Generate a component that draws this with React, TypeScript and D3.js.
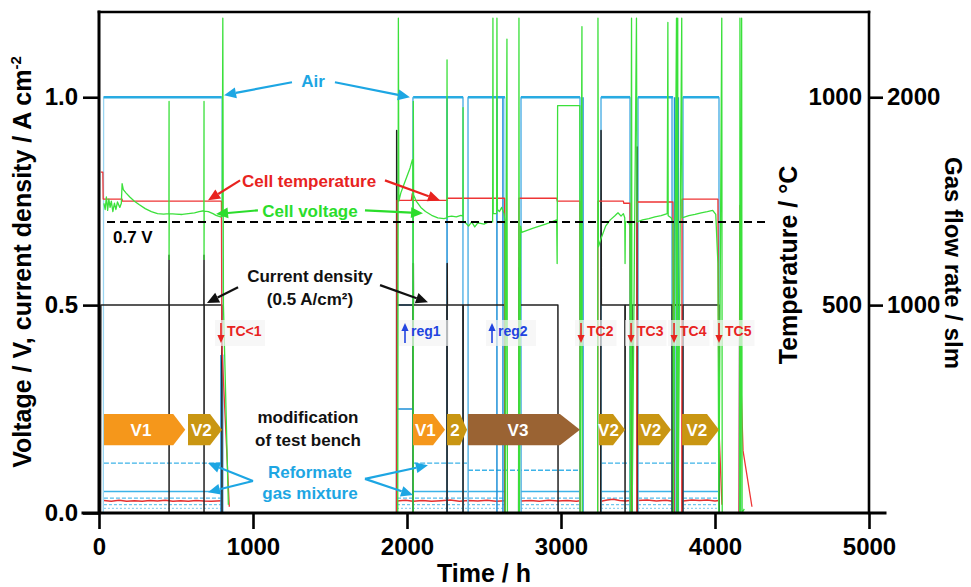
import * as d3 from "d3";
import React, { useEffect, useRef } from "react";

type Pt = [number, number];
const GAP: Pt = [NaN, NaN];

// axis ticks
const timeTicks = [0, 1000, 2000, 3000, 4000, 5000];
const voltTicks = [0, 0.5, 1.0];
const tempTicks = [500, 1000];
const flowTicks = [1000, 2000];

// cell voltage / V
const cellVoltage: Pt[] = [
  [32, 0.745], [40, 0.73], [48, 0.76], [56, 0.728], [64, 0.755], [72, 0.735], [80, 0.75], [90, 0.725],
  [100, 0.745], [110, 0.73], [120, 0.748], [135, 0.735], [145, 0.745], [150, 0.792], [158, 0.778],
  [175, 0.77], [200, 0.76], [230, 0.75], [260, 0.742], [300, 0.732], [340, 0.725], [380, 0.72],
  [420, 0.719], [454, 0.72], [455, 0.99], [455, 0.61], [456, 0.72], [500, 0.719], [540, 0.718],
  [580, 0.72], [620, 0.722], [650, 0.725], [681, 0.727], [682, 0.99], [682, 0.61], [683, 0.726],
  [710, 0.725], [740, 0.72], [760, 0.716], [790, 0.712], [800, 0.714], [804, 1.19], [808, 0.5], [840, 0.02],
  GAP,
  [1940, 0], [1944, 1.19], [1947, 0.75], [1960, 0.77], [1980, 0.79], [2000, 0.81], [2020, 0.83],
  [2035, 0.85], [2038, 0.84], [2040, 0], [2041, 0.99], [2043, 0.765], [2060, 0.75], [2090, 0.735],
  [2120, 0.725], [2160, 0.716], [2200, 0.71], [2240, 0.708], [2259, 0.71], [2260, 1.09], [2261, 0.712],
  [2290, 0.714], [2320, 0.712], [2350, 0.716], [2363, 0.714], [2364, 0.975], [2365, 0.7], [2380, 0.698],
  [2400, 0.69], [2420, 0.7], [2440, 0.688], [2460, 0.698], [2500, 0.695], [2530, 0.7], [2556, 0.7],
  [2558, 1.19], [2560, 0.72], [2582, 0.72], [2584, 1.19], [2587, 0.73], [2600, 0.725], [2615, 0.735],
  [2630, 0.72], [2636, 0.7], [2638, 0], [2649, 1.14], [2652, 0],
  GAP,
  [2725, 0], [2727, 1.19], [2730, 0], [2738, 0.69], [2745, 0.675], [2780, 0.68], [2820, 0.685],
  [2860, 0.69], [2900, 0.695], [2940, 0.7], [2972, 0.705], [2975, 0.6], [2978, 0.98], [3122, 0.98],
  [3124, 0], [3136, 1.17], [3138, 0],
  GAP,
  [3238, 0], [3240, 1.19], [3243, 0.64], [3260, 0.66], [3290, 0.69], [3320, 0.705], [3350, 0.715],
  [3370, 0.722], [3390, 0.714], [3405, 0.72], [3414, 0.71], [3416, 0.6], [3418, 0.7], [3440, 0.7],
  [3448, 0.69], [3450, 0], [3458, 1.19], [3462, 0], [3490, 1.19], [3494, 0.7], [3530, 0.705],
  [3570, 0.708], [3610, 0.712], [3650, 0.715], [3690, 0.72], [3694, 1.18], [3696, 0.715], [3715, 0.71],
  [3727, 0.7], [3729, 0], [3750, 1.19], [3752, 0], [3758, 1.19], [3760, 0], [3784, 1.19], [3786, 0.71],
  [3830, 0.715], [3870, 0.718], [3910, 0.722], [3950, 0.725], [3985, 0.728], [4005, 0.718],
  [4019, 0.6], [4025, 0], [4044, 1.19], [4047, 0],
  GAP,
  [4160, 0], [4162, 1.19], [4165, 0], [4173, 1.19], [4176, 0], [4190, 0.01],
];

// cell temperature / °C
const cellTemperature: Pt[] = [
  [12, 820], [25, 820], [27, 755], [150, 755], [151, 750], [795, 750], [798, 400], [846, 15],
  GAP,
  [1933, 0], [1935, 752], [2028, 752], [2034, 768], [2038, 752], [2260, 752], [2262, 757], [2634, 757], [2636, 0],
  GAP,
  [2725, 0], [2727, 757], [2972, 757], [2976, 750], [3123, 750], [3125, 0],
  GAP,
  [3238, 0], [3240, 750], [3405, 750], [3408, 745], [3448, 745], [3455, 0],
  GAP,
  [3492, 0], [3494, 748], [3727, 748], [3735, 0],
  GAP,
  [3784, 0], [3786, 755], [4019, 755], [4026, 200], [4045, 20],
  GAP,
  [4156, 0], [4162, 740], [4170, 300], [4182, 150], [4240, 15],
];

// current density / A cm-2
const currentDensity: Pt[] = [
  [10, 0], [12, 0.5], [454, 0.5], [455, 0.62], [455, 0], [456, 0.5], [681, 0.5], [682, 0.62], [682, 0],
  [683, 0.5], [797, 0.5], [799, 0],
  GAP,
  [1932, 0], [1933, 0.92], [1936, 0.5], [2039, 0.5], [2040, 0], [2041, 0.6], [2042, 0.5], [2259, 0.5],
  [2260, 0], [2261, 0.6], [2262, 0.5], [2363, 0.5], [2364, 0], [2365, 0.5], [2634, 0.5], [2636, 0],
  GAP,
  [2725, 0], [2727, 0.59], [2729, 0.5], [2980, 0.5], [2981, 0],
  GAP,
  [3258, 0], [3260, 0.92], [3262, 0.5], [3415, 0.5], [3416, 0], [3417, 0.5], [3460, 0.5], [3461, 0],
  [3462, 0.5], [3493, 0.5], [3494, 0.88], [3495, 0], [3496, 0.5], [3721, 0.5], [3722, 0], [3723, 0.5],
  [3790, 0.5], [3791, 0], [3792, 0.5], [4026, 0.5], [4027, 0],
  GAP,
  [4160, 0], [4161, 0.08], [4163, 0],
];

// air flow / slm
const airFlow: Pt[] = [
  [28, 0], [30, 2000], [797, 2000], [800, 0],
  GAP,
  [2039, 0], [2040, 2000], [2364, 2000], [2366, 0], [2394, 0], [2396, 2000], [2636, 2000], [2638, 0],
  GAP,
  [2738, 0], [2740, 2000], [3123, 2000], [3125, 0],
  GAP,
  [3258, 0], [3260, 2000], [3448, 2000], [3450, 0], [3498, 0], [3500, 2000], [3727, 2000], [3729, 0],
  [3790, 0], [3792, 2000], [4026, 2000], [4028, 0],
];

// reformate gas mixture components / slm
const reformateA: Pt[] = [
  [32, 240], [797, 240], GAP, [2040, 240], [2396, 240], GAP, [2396, 206], [3123, 206], GAP,
  [3260, 240], [3448, 240], GAP, [3500, 240], [3727, 240], GAP, [3792, 240], [4026, 240],
];
const reformateB: Pt[] = [
  [32, 104], [797, 104], GAP, [2040, 104], [2636, 104], GAP, [2740, 104], [3123, 104], GAP,
  [3260, 104], [3448, 104], GAP, [3500, 104], [3727, 104], GAP, [3792, 104], [4026, 104],
];
const reformateC: Pt[] = [
  [32, 72], [797, 72], GAP, [1935, 72], [2636, 72], GAP, [2740, 72], [3123, 72], GAP,
  [3260, 72], [3448, 72], GAP, [3500, 72], [3727, 72], GAP, [3792, 72], [4026, 72],
];
const reformateD: Pt[] = [
  [32, 40], [797, 40], GAP, [1935, 40], [2636, 40], GAP, [2740, 40], [3123, 40], GAP,
  [3260, 40], [3448, 40], GAP, [3500, 40], [3727, 40], GAP, [3792, 40], [4026, 40],
];
const reformateE: Pt[] = [
  [32, 22], [797, 22], GAP, [1935, 22], [2636, 22], GAP, [2740, 22], [3123, 22], GAP,
  [3260, 22], [3448, 22], GAP, [3500, 22], [3727, 22], GAP, [3792, 22], [4026, 22],
];

// red trace near bottom / slm
const redTrace: Pt[] = [
  [32, 60], [80, 57], [130, 61], [180, 56], [230, 59], [280, 57], [330, 60], [380, 58], [430, 61],
  [480, 57], [530, 59], [580, 56], [630, 60], [680, 58], [730, 57], [797, 59],
  GAP,
  [1935, 58], [1990, 61], [2040, 57], [2100, 60], [2160, 56], [2220, 59], [2280, 62], [2340, 57],
  [2400, 60], [2460, 58], [2520, 61], [2580, 57], [2636, 59],
  GAP,
  [2740, 58], [2800, 60], [2860, 57], [2920, 61], [2980, 58], [3040, 60], [3100, 57], [3123, 59],
  GAP,
  [3260, 57], [3300, 62], [3340, 66], [3380, 60], [3420, 58], [3448, 60],
  GAP,
  [3500, 60], [3560, 62], [3620, 58], [3680, 61], [3727, 57],
  GAP,
  [3792, 58], [3850, 63], [3900, 60], [3950, 62], [4000, 58], [4026, 60],
];

// purge gas / slm
const purgeFlow: Pt[] = [
  [1933, 0], [1935, 1000], [2040, 1000], [2040, 0], GAP,
  [1935, 500], [2040, 500], GAP,
  [797, 0], [797, 760], [803, 760], [803, 0], GAP,
  [4158, 0], [4160, 840], [4166, 840], [4166, 0],
];

// gas switching events: time / h, flow / slm
const gasSwitches: Pt[] = [
  [792, 760], [2039, 2000], [2260, 2000], [2364, 2000], [2396, 2000], [2584, 2000],
  [2623, 2000], [2740, 2000], [3123, 2000], [3143, 2000], [3260, 2000], [3448, 2000], [3500, 2000],
  [3722, 2000], [3738, 2000], [3750, 2000], [3762, 2000], [3792, 2000], [4026, 2000], [4162, 840],
];

const refVoltage = { v: 0.7, t0: 52, t1: 4325, label: "0.7 V", labelT: 91, labelV: 0.649 };

// test phases
const phaseLow = 0.163;
const phaseHigh = 0.238;
const phaseColors: Record<string, string> = { V1: "#F5971B", V2: "#C99612", V3: "#9A6333" };
const phases = [
  { label: "V1", kind: "V1", t0: 32, t1: 560 },
  { label: "V2", kind: "V2", t0: 578, t1: 799 },
  { label: "V1", kind: "V1", t0: 2039, t1: 2247 },
  { label: "2", kind: "V2", t0: 2260, t1: 2390 },
  { label: "V3", kind: "V3", t0: 2396, t1: 3123 },
  { label: "V2", kind: "V2", t0: 3247, t1: 3416 },
  { label: "V2", kind: "V2", t0: 3500, t1: 3714 },
  { label: "V2", kind: "V2", t0: 3786, t1: 4026 },
];

// events (thermal cycles, regenerations)
const events = [
  { t: 792, label: "TC<1", dir: "down" },
  { t: 1987, label: "reg1", dir: "up" },
  { t: 2552, label: "reg2", dir: "up" },
  { t: 3130, label: "TC2", dir: "down" },
  { t: 3455, label: "TC3", dir: "down" },
  { t: 3734, label: "TC4", dir: "down" },
  { t: 4026, label: "TC5", dir: "down" },
];

const callouts = [
  { lines: ["Air"], color: "#1DA6E3", t: 1390, v: [1.024], arrows: [[1253, 1.036, 812, 1.005], [1532, 1.036, 2019, 1.0]] },
  { lines: ["Cell temperature"], color: "#E8231F", t: 1364, v: [0.784], arrows: [[916, 0.8, 708, 0.752], [1857, 0.8, 2214, 0.752]] },
  { lines: ["Cell voltage"], color: "#2BDD2B", t: 1370, v: [0.712], arrows: [[1032, 0.728, 760, 0.719], [1727, 0.728, 2104, 0.721]] },
  { lines: ["Current density", "(0.5 A/cm²)"], color: "#111111", t: 1370, v: [0.555, 0.5], arrows: [[903, 0.543, 701, 0.505], [1825, 0.548, 2136, 0.507]] },
  { lines: ["modification", "of test bench"], color: "#111111", t: 1357, v: [0.216, 0.161], arrows: [] },
  { lines: ["Reformate", "gas mixture"], color: "#1DA6E3", t: 1370, v: [0.084, 0.034], arrows: [[1000, 0.077, 708, 0.12], [1000, 0.077, 708, 0.05], [1727, 0.082, 2136, 0.115], [1727, 0.082, 2039, 0.043]] },
];

const App = () => {
  const node = useRef<SVGSVGElement>(null);
  useEffect(() => {
    const svg = d3.select(node.current);
    svg.selectAll("*").remove();
    const font = "'Liberation Sans', Arial, Helvetica, sans-serif";
    const m = { left: 99, right: 869, top: 12, bottom: 513 };

    const x = d3.scaleLinear().domain([0, 5000]).range([m.left, m.right]);
    const yV = d3.scaleLinear().domain([0, 1.205]).range([m.bottom, m.top]);
    const yT = d3.scaleLinear().domain([0, 1205]).range([m.bottom, m.top]);
    const yF = d3.scaleLinear().domain([0, 2410]).range([m.bottom, m.top]);

    svg.append("defs").append("clipPath").attr("id", "plotclip")
      .append("rect").attr("x", m.left).attr("y", m.top)
      .attr("width", m.right - m.left).attr("height", m.bottom - m.top);
    const plot = svg.append("g").attr("clip-path", "url(#plotclip)");

    const draw = (data: Pt[], s: any, color: string, width: number, dash?: string) => {
      plot.append("path").datum(data)
        .attr("fill", "none").attr("stroke", color).attr("stroke-width", width)
        .attr("stroke-dasharray", dash || null).attr("stroke-linejoin", "round")
        .attr("d", d3.line<Pt>().defined((d) => !isNaN(d[1])).x((d) => x(d[0])).y((d) => s(d[1])));
    };

    // gas flows
    draw(reformateE, yF, "#8FD3F2", 1.2, "2,2");
    draw(reformateD, yF, "#6EC6EE", 1.2, "3,2");
    draw(reformateC, yF, "#55BDEB", 1.2, "4,2");
    draw(reformateB, yF, "#3DB3E8", 1.5);
    draw(reformateA, yF, "#3DB3E8", 1.4, "5,2");
    draw(redTrace, yF, "#E53030", 1.5);
    gasSwitches.forEach((d) => {
      plot.append("line").attr("x1", x(d[0])).attr("x2", x(d[0]))
        .attr("y1", yF(0)).attr("y2", yF(d[1]))
        .attr("stroke", "#1E90D8").attr("stroke-width", 1.5);
    });
    draw(purgeFlow, yF, "#1E90D8", 1.5);
    // air: thin light transitions, heavy plateaus
    draw(airFlow, yF, "#9BD6F2", 1.3);
    d3.pairs(airFlow)
      .filter(([a, b]) => a[1] === b[1] && a[1] > 0)
      .forEach(([a, b]) => {
        plot.append("line").attr("x1", x(a[0])).attr("x2", x(b[0]))
          .attr("y1", yF(a[1])).attr("y2", yF(b[1]))
          .attr("stroke", "#29ABE2").attr("stroke-width", 2.6);
      });

    // current, temperature, voltage
    draw(currentDensity, yV, "#222222", 1.5);
    draw(cellTemperature, yT, "#EE3535", 1.3);
    draw(cellVoltage, yV, "#3BE03B", 1.3);

    // 0.7 V reference
    plot.append("line")
      .attr("x1", x(refVoltage.t0)).attr("x2", x(refVoltage.t1))
      .attr("y1", yV(refVoltage.v)).attr("y2", yV(refVoltage.v))
      .attr("stroke", "#000").attr("stroke-width", 2).attr("stroke-dasharray", "8,5");
    svg.append("text").attr("x", x(refVoltage.labelT)).attr("y", yV(refVoltage.labelV))
      .attr("font-family", font).attr("font-weight", "bold").attr("font-size", 17)
      .text(refVoltage.label);

    // phase arrows
    phases.forEach((p) => {
      const x0 = x(p.t0);
      const x1 = x(p.t1);
      const w = x1 - x0;
      const tip = w > 100 ? 20 : w < 25 ? 7 : 12;
      const yt = yV(phaseHigh);
      const yb = yV(phaseLow);
      const ym = (yt + yb) / 2;
      svg.append("path")
        .attr("d", `M${x0},${yt}L${x1 - tip},${yt}L${x1},${ym}L${x1 - tip},${yb}L${x0},${yb}Z`)
        .attr("fill", phaseColors[p.kind]);
      svg.append("text").attr("x", (x0 + x1 - tip) / 2 + tip * 0.2).attr("y", ym + 6)
        .attr("text-anchor", "middle").attr("fill", "#fff")
        .attr("font-family", font).attr("font-weight", "bold").attr("font-size", 17)
        .text(p.label);
    });

    // arrows helper
    const arrow = (g: any, x1: number, y1: number, x2: number, y2: number, color: string, w = 2, head = 11) => {
      const a = Math.atan2(y2 - y1, x2 - x1);
      const bx = x2 - head * Math.cos(a);
      const by = y2 - head * Math.sin(a);
      g.append("line").attr("x1", x1).attr("y1", y1).attr("x2", bx).attr("y2", by)
        .attr("stroke", color).attr("stroke-width", w);
      const hw = head * 0.45;
      g.append("path")
        .attr("d", `M${x2},${y2}L${bx - hw * Math.sin(a)},${by + hw * Math.cos(a)}L${bx + hw * Math.sin(a)},${by - hw * Math.cos(a)}Z`)
        .attr("fill", color);
    };

    // events
    const evTop = yV(0.457);
    const evBot = yV(0.409);
    events.forEach((e) => {
      const ex = x(e.t);
      const color = e.dir === "down" ? "#E8231F" : "#2244E0";
      const tw = e.label.length * 8.5;
      svg.append("rect").attr("x", ex - 6).attr("y", evTop - 3).attr("width", tw + 16)
        .attr("height", evBot - evTop + 6).attr("fill", "#f4f4f4").attr("opacity", 0.7);
      if (e.dir === "down") arrow(svg, ex, evTop, ex, evBot, color, 1.6, 8);
      else arrow(svg, ex, evBot, ex, evTop, color, 1.6, 8);
      svg.append("text").attr("x", ex + 6).attr("y", yV(0.425))
        .attr("fill", color).attr("font-family", font).attr("font-weight", "bold").attr("font-size", 14)
        .text(e.label);
    });

    // callouts
    callouts.forEach((c) => {
      c.lines.forEach((l, i) => {
        svg.append("text").attr("x", x(c.t)).attr("y", yV(c.v[i]))
          .attr("text-anchor", "middle").attr("fill", c.color)
          .attr("font-family", font).attr("font-weight", "bold").attr("font-size", 17)
          .text(l);
      });
      c.arrows.forEach((a) => arrow(svg, x(a[0]), yV(a[1]), x(a[2]), yV(a[3]), c.color, 2.2, 12));
    });

    // axes
    const styleAxis = (g: any) => {
      g.select(".domain").remove();
      g.selectAll("line").attr("stroke", "#000").attr("stroke-width", 2.6);
      g.selectAll("text").attr("font-family", font).attr("font-weight", "bold")
        .attr("font-size", 24).attr("fill", "#000");
    };
    svg.append("g").attr("transform", `translate(0,${m.bottom})`)
      .call(d3.axisBottom(x).tickValues(timeTicks).tickSize(16).tickPadding(9).tickFormat(d3.format("d")))
      .call(styleAxis);
    svg.append("g").attr("transform", `translate(${m.left},0)`)
      .call(d3.axisLeft(yV).tickValues(voltTicks).tickSize(16).tickPadding(5).tickFormat(d3.format(".1f")))
      .call(styleAxis);
    svg.append("g").attr("transform", `translate(${m.right},0)`)
      .call(d3.axisLeft(yT).tickValues(tempTicks).tickSize(0).tickPadding(7).tickFormat(d3.format("d")))
      .call(styleAxis);
    svg.append("g").attr("transform", `translate(${m.right},0)`)
      .call(d3.axisRight(yF).tickValues(flowTicks).tickSize(14).tickPadding(4).tickFormat(d3.format("d")))
      .call(styleAxis);

    // frame
    const frame = [
      [m.left, m.top, m.right, m.top, 2.6],
      [m.right, m.top, m.right, m.bottom, 2.6],
      [m.left, m.top, m.left, m.bottom, 3],
      [m.left - 16, m.bottom, m.right + 16, m.bottom, 3],
    ];
    frame.forEach((f) => {
      svg.append("line").attr("x1", f[0]).attr("y1", f[1]).attr("x2", f[2]).attr("y2", f[3])
        .attr("stroke", "#000").attr("stroke-width", f[4]).attr("stroke-linecap", "square");
    });

    // titles
    svg.append("text").attr("x", (m.left + m.right) / 2).attr("y", 582)
      .attr("text-anchor", "middle").attr("font-family", font).attr("font-weight", "bold")
      .attr("font-size", 25).text("Time / h");
    const lt = svg.append("text").attr("transform", "translate(31,262) rotate(-90)")
      .attr("text-anchor", "middle").attr("font-family", font).attr("font-weight", "bold")
      .attr("font-size", 25);
    lt.append("tspan").text("Voltage / V, current density / A cm");
    lt.append("tspan").attr("dy", -10).attr("font-size", 15).text("-2");
    svg.append("text").attr("transform", "translate(797,265) rotate(-90)")
      .attr("text-anchor", "middle").attr("font-family", font).attr("font-weight", "bold")
      .attr("font-size", 25).text("Temperature / °C");
    svg.append("text").attr("transform", "translate(945,263) rotate(90)")
      .attr("text-anchor", "middle").attr("font-family", font).attr("font-weight", "bold")
      .attr("font-size", 24).text("Gas flow rate / slm");
  }, []);
  return (
    <svg
      ref={node}
      width={971}
      height={587}
      style={{ position: "absolute", left: 0, top: 0, background: "#fff" }}
    />
  );
};

export default App;
